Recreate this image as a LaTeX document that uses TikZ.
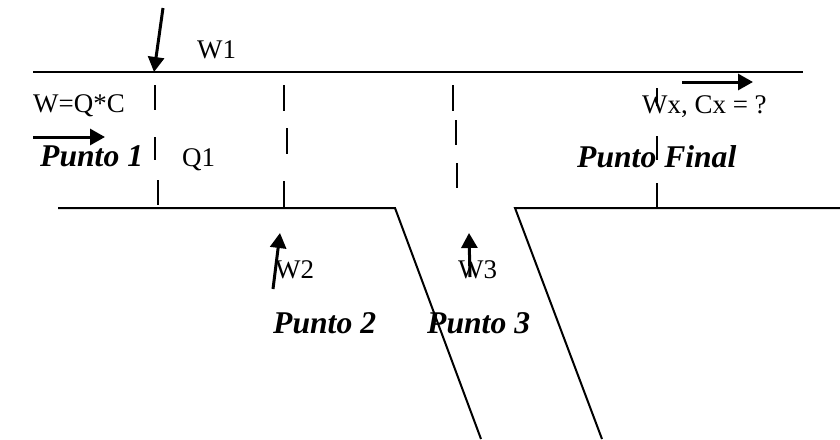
\documentclass[tikz,border=0pt]{standalone}
\usepackage{fontspec}
\setmainfont{Liberation Serif}
\usetikzlibrary{arrows.meta}
\tikzset{
  wall/.style={line width=0.06cm},
  flow/.style={line width=0.09cm, -{Triangle[length=0.45cm,width=0.48cm]}},
  lbl/.style={anchor=base west, inner sep=0pt, font=\fontsize{23}{27}\selectfont},
  pto/.style={anchor=base west, inner sep=0pt, font=\fontsize{27}{31}\selectfont\bfseries\itshape},
}

\begin{document}
\begin{tikzpicture}[x=0.03cm, y=-0.03cm]
		%%%%% START %%%%%
		\useasboundingbox (0, 0) rectangle (840, 439);
		
		% channel walls
		\draw[wall] (33, 72) -- (803, 72);
		\draw[wall] (58, 208) -- (395, 208) -- (481, 439);
		\draw[wall] (840, 208) -- (515, 208) -- (602, 439);
		
		% section cuts
		\foreach \x/\a/\b in {155/85/110, 155/137/160, 158/180/205,
		                      284/85/111, 287/128/154, 284/181/207,
		                      453/85/111, 456/120/145, 457/163/188,
		                      657/88/106, 657/136/160, 657/183/207}
		  \draw[wall] (\x, \a) -- (\x, \b);
		
		% loads
		\coordinate (w1top) at (163, 8);
		\coordinate (w1tip) at (154, 72);
		\draw[flow] (w1top) -- (w1tip);
		
		\coordinate (instart) at (33, 137);
		\coordinate (inend) at (105, 137);
		\draw[flow] (instart) -- (inend);
		
		\coordinate (outstart) at (682, 82);
		\coordinate (outend) at (753, 82);
		\draw[flow] (outstart) -- (outend);
		
		\coordinate (w2low) at (273, 289);
		\coordinate (w2tip) at (280, 233);
		\draw[flow] (w2low) -- (w2tip);
		
		\coordinate (w3low) at (470, 277);
		\coordinate (w3tip) at (469, 233);
		\draw[flow] (w3low) -- (w3tip);
		
		% labels
		\node[lbl] (w1) at (197, 58) {W1};
		\node[lbl] (wqc) at (33, 112) {W=Q*C};
		\node[lbl] (q1) at (182, 166) {Q1};
		\node[lbl] (wx) at (642, 113) {Wx, Cx = ?};
		\node[lbl] (w2) at (275, 278) {W2};
		\node[lbl] (w3) at (458, 278) {W3};
		
		\node[pto] (p1) at (40, 166) {Punto 1};
		\node[pto] (pf) at (577, 167) {Punto Final};
		\node[pto] (p2) at (273, 333) {Punto 2};
		\node[pto] (p3) at (427, 333) {Punto 3};
		%%%%% END %%%%%
\end{tikzpicture}
\end{document}
